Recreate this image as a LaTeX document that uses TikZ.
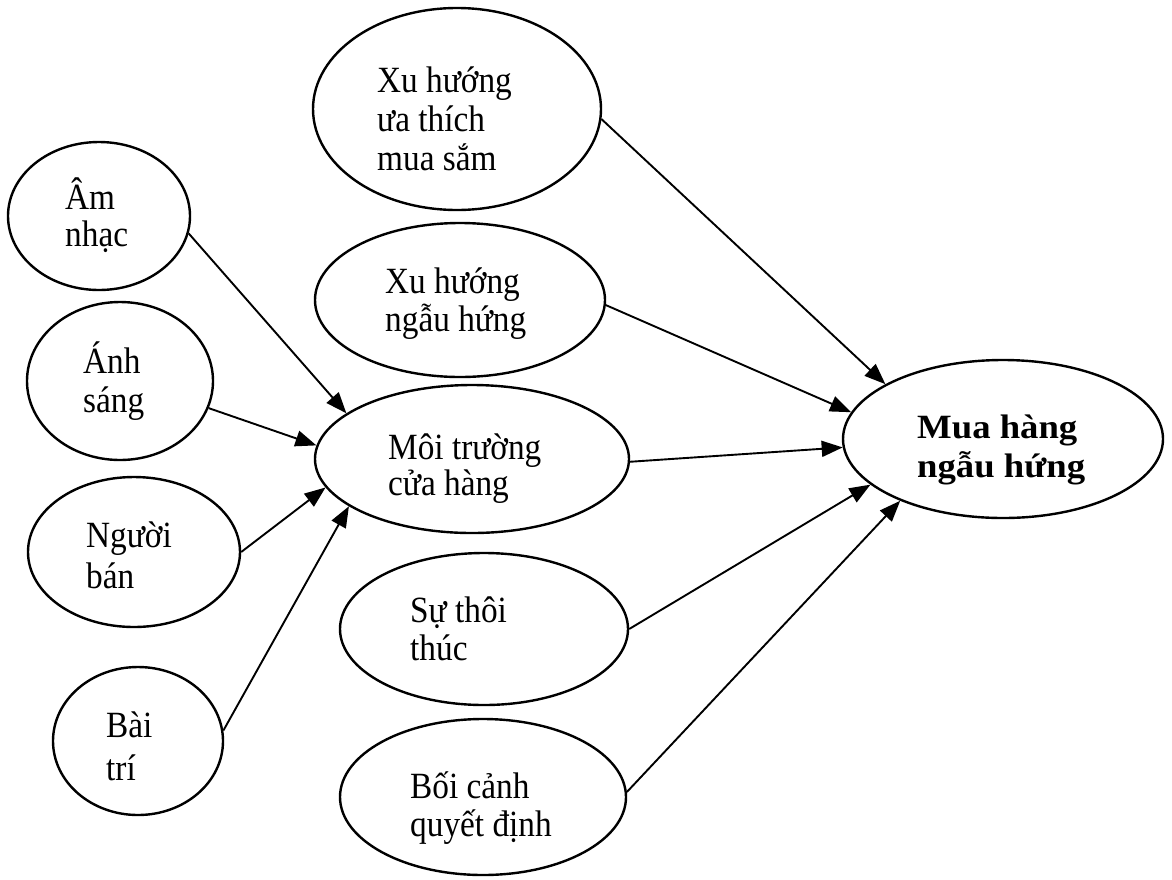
\documentclass[tikz,border=0pt]{standalone}
\usepackage{fontspec}
\setmainfont{Liberation Serif}[FakeStretch=0.9]
\newfontfamily\boldwide{Liberation Serif}[FakeStretch=1.08]
\usetikzlibrary{shapes.geometric,arrows.meta}
\tikzset{
  oval/.style={draw=black, line width=2.4pt, ellipse, inner sep=0pt},
  txt/.style={anchor=base west, inner sep=0pt, text=black, font=\fontsize{37}{40}\selectfont},
  btxt/.style={anchor=base west, inner sep=0pt, text=black, font=\boldwide\bfseries\fontsize{34}{40}\selectfont},
  arr/.style={draw=black, line width=1.9pt, -{Triangle[length=21pt,width=16pt]}}
}
\begin{document}
\begin{tikzpicture}[x=1pt,y=-1pt]
\useasboundingbox[fill=white] (0,0) rectangle (1172,879);
% ellipses
\node[oval, minimum width=288pt, minimum height=202pt] (eA) at (457,109) {};
\node[oval, minimum width=290pt, minimum height=154pt] (eB) at (460,300) {};
\node[oval, minimum width=314pt, minimum height=148pt] (eC) at (472,459) {};
\node[oval, minimum width=288pt, minimum height=152pt] (eD) at (484,629) {};
\node[oval, minimum width=286pt, minimum height=156pt] (eE) at (483,797) {};
\node[oval, minimum width=320pt, minimum height=158pt] (eF) at (1003,439) {};
\node[oval, minimum width=182pt, minimum height=148pt] (eAm) at (99,216) {};
\node[oval, minimum width=186pt, minimum height=158pt] (eAnh) at (120,381) {};
\node[oval, minimum width=212pt, minimum height=150pt] (eNg) at (134,552) {};
\node[oval, minimum width=170pt, minimum height=148pt] (eBai) at (138,741) {};
% texts
\node[txt] (tA1) at (377,92) {Xu hướng};
\node[txt] (tA2) at (377,131) {ưa thích};
\node[txt] (tA3) at (377,170) {mua sắm};
\node[txt] (tB1) at (385,293) {Xu hướng};
\node[txt] (tB2) at (385,331) {ngẫu hứng};
\node[txt] (tC1) at (388,459) {Môi trường};
\node[txt] (tC2) at (388,495) {cửa hàng};
\node[txt] (tD1) at (410,622) {Sự thôi};
\node[txt] (tD2) at (410,660) {thúc};
\node[txt] (tE1) at (410,798) {Bối cảnh};
\node[txt] (tE2) at (410,836) {quyết định};
\node[txt] (tAm1) at (65,209) {Âm};
\node[txt] (tAm2) at (65,246) {nhạc};
\node[txt] (tAnh1) at (83,373) {Ánh};
\node[txt] (tAnh2) at (83,412) {sáng};
\node[txt] (tNg1) at (86,547) {Người};
\node[txt] (tNg2) at (86,588) {bán};
\node[txt] (tBai1) at (106,737) {Bài};
\node[txt] (tBai2) at (106,780) {trí};
\node[btxt] (tF1) at (917,438) {Mua hàng};
\node[btxt] (tF2) at (917,477) {ngẫu hứng};
% connectors
\draw[arr] (eAm.-11.8) -- (eC.160.5);
\draw[arr] (eAnh.-17.3) -- (eC.175.6);
\draw[arr] (eNg.0) -- (eC.-169.2);
\draw[arr] (eBai.7.4) -- (eC.-159.7);
\draw[arr] (eA.-4) -- (eF.155);
\draw[arr] (eB.-2.4) -- (eF.170);
\draw[arr] (eC.-1.8) -- (eF.-177.8);
\draw[arr] (eD.0) -- (eF.-161);
\draw[arr] (eE.2.7) -- (eF.-149);
\end{tikzpicture}
\end{document}
